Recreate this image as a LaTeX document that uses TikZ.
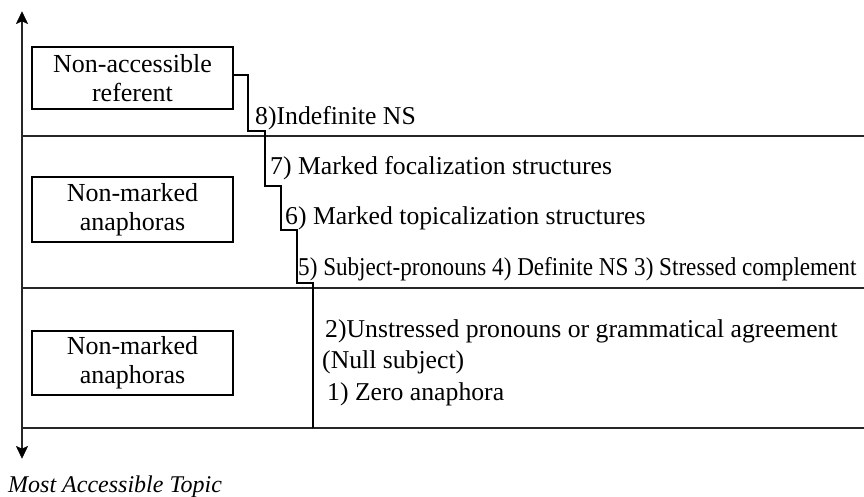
\documentclass[tikz,border=0pt]{standalone}
\usepackage{fontspec}
\setmainfont{Liberation Serif}
\begin{document}
\begin{tikzpicture}[x=1pt,y=-1pt,
  ln/.style={line width=1.2pt, draw=black!85},
  headfill/.style={fill=black, draw=black, line width=0.6pt, line join=miter},
  boxnode/.style={draw, line width=1.1pt, minimum width=201pt, inner sep=0pt, align=center,
    font=\fontsize{26}{29}\selectfont},
  lbl/.style={anchor=base west, inner sep=0pt, font=\fontsize{25.7}{29}\selectfont}
]
\useasboundingbox (0,0) rectangle (864,497);
% axis
\coordinate (axtop) at (22,12);
\coordinate (axbot) at (22,458);
\coordinate (nt) at (22,21);
\coordinate (nb) at (22,449);
\draw[ln] (nt) -- (nb);
\filldraw[headfill] (axtop) -- (27.5,23.5) -- (nt) -- (16.5,23.5) -- cycle;
\filldraw[headfill] (axbot) -- (27.5,446.5) -- (nb) -- (16.5,446.5) -- cycle;
% horizontal lines
\coordinate (h1a) at (22,136); \coordinate (h1b) at (864,136);
\coordinate (h2a) at (22,288); \coordinate (h2b) at (864,288);
\coordinate (h3a) at (22,428); \coordinate (h3b) at (864,428);
\draw[ln] (h1a) -- (h1b);
\draw[ln] (h2a) -- (h2b);
\draw[ln] (h3a) -- (h3b);
% boxes
\node[boxnode, minimum height=62pt] (b1) at (132.5,78) {Non-accessible\\referent};
\node[boxnode, minimum height=65pt] (b2) at (132.5,209.5) {Non-marked\\anaphoras};
\node[boxnode, minimum height=64pt] (b3) at (132.5,363) {Non-marked\\anaphoras};
% staircase
\coordinate (send) at (313,428);
\draw[line width=1.1pt] ([yshift=3pt]b1.east) -| (248,131) -| (265,186) -| (281,230) -| (297,283) -| (send);
% labels
\node[lbl] (l8) at (255,125) {8)Indefinite NS};
\node[lbl] (l7) at (270,175) {7) Marked focalization structures};
\node[lbl] (l6) at (285,224) {6) Marked topicalization structures};
\node[lbl] (l5) at (298,275) {\scalebox{0.9}[1]{5) Subject-pronouns 4) Definite NS 3) Stressed complement}};
\node[lbl] (l2) at (325,337) {2)Unstressed pronouns or grammatical agreement};
\node[lbl] (l2b) at (322,368) {(Null subject)};
\node[lbl] (l1) at (327,400) {1) Zero anaphora};
\node[anchor=base west, inner sep=0pt, font=\fontsize{24}{27}\selectfont\itshape] (mat) at (8,492) {Most Accessible Topic};
\end{tikzpicture}
\end{document}
